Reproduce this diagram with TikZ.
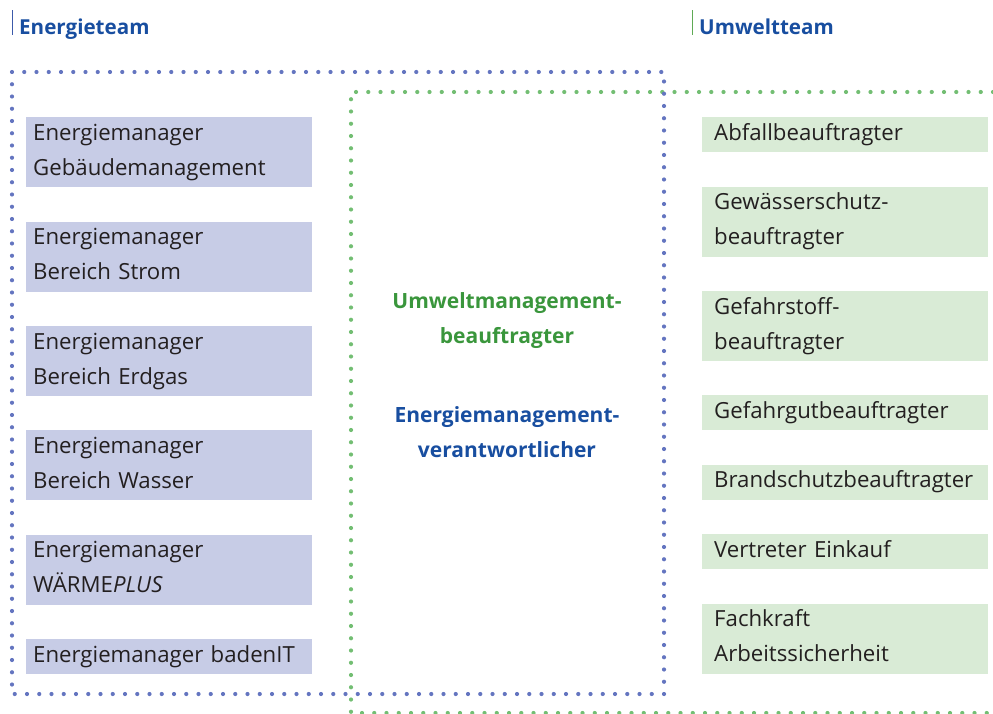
\documentclass[tikz,border=0pt]{standalone}
\usepackage{fontspec}
\setmainfont{Open Sans}
\usetikzlibrary{positioning}

\definecolor{teamblue}{RGB}{24,78,160}
\definecolor{teamgreen}{RGB}{58,150,60}
\definecolor{barblue}{RGB}{60,90,170}
\definecolor{bargreen}{RGB}{95,170,85}
\definecolor{fillblue}{RGB}{199,204,230}
\definecolor{fillgreen}{RGB}{217,235,214}
\definecolor{dotblue}{RGB}{100,117,192}
\definecolor{dotgreen}{RGB}{115,190,115}
\definecolor{textdark}{RGB}{35,31,32}

% eine Zeile: 23pt hoch, 12pt tief
\newcommand{\rowstrut}{\rule[-12pt]{0pt}{35pt}}

\tikzset{
  ebox/.style={fill=fillblue, text=textdark, anchor=north west,
    text width=272pt, inner xsep=7pt, inner ysep=0pt, align=left,
    font=\fontsize{22.2}{35}\selectfont},
  ubox/.style={ebox, fill=fillgreen, text width=262pt, inner xsep=12pt},
  teamtitle/.style={anchor=base west, inner sep=0pt,
    font=\fontsize{20.6}{24}\selectfont\bfseries},
  midtext/.style={anchor=north, align=center, inner sep=0pt,
    font=\fontsize{21}{35}\selectfont\bfseries},
  dotsE/.style={draw=dotblue, line width=4.2pt, line cap=round,
    dash pattern=on 0pt off 12.25pt},
  dotsU/.style={dotsE, draw=dotgreen},
}

\begin{document}
\begin{tikzpicture}[x=1pt, y=-1pt]
  \useasboundingbox (0,0) rectangle (993,714);

  % Teamrahmen
  \draw[dotsU] (993,92) -- (351,92) -- (351,713) -- (993,713);
  \draw[dotsE] (12,72) rectangle (664,694);

  % Ueberschriften
  \node[teamtitle, text=teamblue] (et) at (19,35) {Energieteam};
  \draw[barblue, line width=0.9pt] ([xshift=-7pt]et.base west) -- ++(0,25pt);
  \node[teamtitle, text=teamblue] (ut) at (699,35) {Umweltteam};
  \draw[bargreen, line width=0.9pt] ([xshift=-7pt]ut.base west) -- ++(0,25pt);

  % Energieteam
  \node[ebox] (em1) at (26,117) {\rowstrut Energiemanager\\\rowstrut Gebäudemanagement};
  \node[ebox, below=34pt of em1] (em2) {\rowstrut Energiemanager\\\rowstrut Bereich Strom};
  \node[ebox, below=34pt of em2] (em3) {\rowstrut Energiemanager\\\rowstrut Bereich Erdgas};
  \node[ebox, below=34pt of em3] (em4) {\rowstrut Energiemanager\\\rowstrut Bereich Wasser};
  \node[ebox, below=34pt of em4] (em5) {\rowstrut Energiemanager\\\rowstrut WÄRME\textit{PLUS}};
  \node[ebox, below=34pt of em5] (em6) {\rowstrut Energiemanager badenIT};

  % Mitte
  \node[midtext, text=teamgreen] (umb) at (507,285)
    {\rowstrut Umweltmanagement-\\\rowstrut beauftragter};
  \node[midtext, text=teamblue, below=44pt of umb] (emv)
    {\rowstrut Energiemanagement-\\\rowstrut verantwortlicher};

  % Umweltteam
  \node[ubox] (ub1) at (702,117) {\rowstrut Abfallbeauftragter};
  \node[ubox, below=34pt of ub1] (ub2) {\rowstrut Gewässerschutz-\\\rowstrut beauftragter};
  \node[ubox, below=34pt of ub2] (ub3) {\rowstrut Gefahrstoff-\\\rowstrut beauftragter};
  \node[ubox, below=34pt of ub3] (ub4) {\rowstrut Gefahrgutbeauftragter};
  \node[ubox, below=34pt of ub4] (ub5) {\rowstrut Brandschutzbeauftragter};
  \node[ubox, below=34pt of ub5] (ub6) {\rowstrut Vertreter Einkauf};
  \node[ubox, below=34pt of ub6] (ub7) {\rowstrut Fachkraft\\\rowstrut Arbeitssicherheit};
\end{tikzpicture}
\end{document}
